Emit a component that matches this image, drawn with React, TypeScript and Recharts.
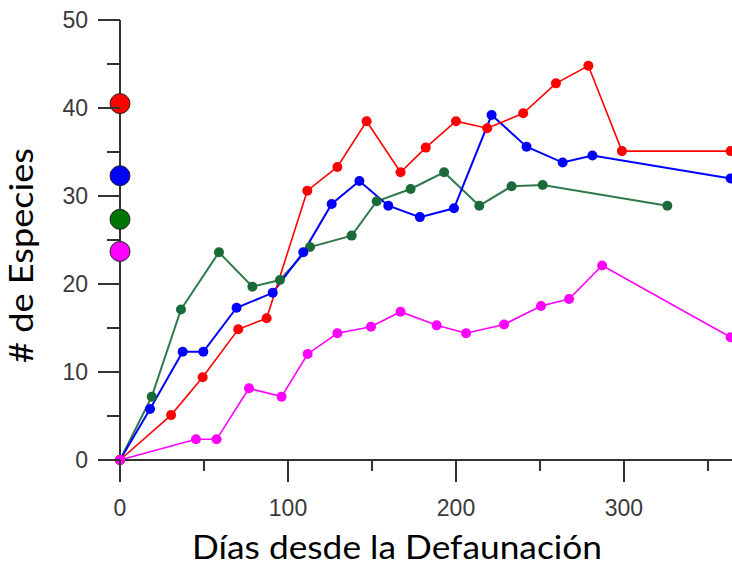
import React from 'react';
import { ComposedChart, Line, Scatter, XAxis, YAxis, Label } from 'recharts';

// Days since defaunation (x) and number of species (y) per series
const redDays = [0, 30.4, 49.2, 70.4, 87.3, 111.5, 129.4, 146.8, 167, 182, 200, 218.6, 240, 259.5, 278.8, 298.8, 363.5];
const redSpecies = [0, 5.1, 9.4, 14.85, 16.1, 30.6, 33.3, 38.5, 32.7, 35.5, 38.5, 37.7, 39.4, 42.8, 44.8, 35.1, 35.1];

const blueDays = [0, 17.9, 37.3, 49.6, 69.4, 90.9, 109.1, 126, 142.5, 159.7, 178.5, 198.8, 221.2, 242, 263.5, 281.2, 363.5];
const blueSpecies = [0, 5.8, 12.3, 12.3, 17.3, 19.0, 23.6, 29.1, 31.7, 28.9, 27.6, 28.6, 39.2, 35.6, 33.8, 34.6, 32.0];

const greenDays = [0, 18.9, 36.3, 58.9, 78.8, 95.2, 113.1, 137.9, 152.8, 173, 192.9, 213.9, 233.1, 251.6, 325.8];
const greenSpecies = [0, 7.2, 17.1, 23.6, 19.7, 20.45, 24.2, 25.5, 29.4, 30.8, 32.7, 28.9, 31.1, 31.25, 28.9];

const magentaDays = [0, 45.2, 57.5, 76.8, 96.2, 111.7, 129.4, 149.4, 167, 188.5, 206, 228.6, 250.6, 267.3, 287, 363.5];
const magentaSpecies = [0, 2.35, 2.35, 8.15, 7.2, 12.05, 14.4, 15.15, 16.85, 15.3, 14.4, 15.4, 17.5, 18.3, 22.1, 13.95];

// Initial (reference) species counts shown as large markers on the y axis
const initialDays = [0, 0, 0, 0];
const initialSpecies = [40.5, 32.3, 27.35, 23.7];
const initialColors = ['#ff0000', '#0000ff', '#007400', '#ff00ff'];

const xTicks = [0, 50, 100, 150, 200, 250, 300, 350];
const xMajor = [0, 100, 200, 300];
const yTicks = [0, 5, 10, 15, 20, 25, 30, 35, 40, 45, 50];
const yMajor = [0, 10, 20, 30, 40, 50];

const toPoints = (xs: number[], ys: number[]) => xs.map((x, i) => ({ x, y: ys[i] }));

const redData = toPoints(redDays, redSpecies);
const blueData = toPoints(blueDays, blueSpecies);
const greenData = toPoints(greenDays, greenSpecies);
const magentaData = toPoints(magentaDays, magentaSpecies);
const initialData = initialDays.map((x, i) => ({ x, y: initialSpecies[i], color: initialColors[i] }));

const AXIS = '#333333';
const TICKTEXT = '#3a3a3a';
const TICKFONT = '"Liberation Sans", Arial, sans-serif';
const TITLEFONT = 'Lato, "Open Sans", sans-serif';

const YTick = (props: any) => {
  const { x, y, payload } = props;
  const major = yMajor.includes(payload.value);
  return (
    <g>
      <line x1={x} x2={x - (major ? 22 : 13)} y1={y} y2={y} stroke={AXIS} strokeWidth={2} />
      {major && (
        <text x={x - 32} y={y} textAnchor="end" dominantBaseline="central" fontFamily={TICKFONT} fontSize={23} fill={TICKTEXT}>
          {payload.value}
        </text>
      )}
    </g>
  );
};

const XTick = (props: any) => {
  const { x, y, payload } = props;
  const major = xMajor.includes(payload.value);
  return (
    <g>
      <line x1={x} x2={x} y1={y} y2={y + (major ? 22 : 11)} stroke={AXIS} strokeWidth={2} />
      {major && (
        <text x={x} y={y + 48} textAnchor="middle" dominantBaseline="central" fontFamily={TICKFONT} fontSize={23} fill={TICKTEXT}>
          {payload.value}
        </text>
      )}
    </g>
  );
};

const BigMark = (props: any) => (
  <circle cx={props.cx} cy={props.cy} r={10} fill={props.payload.color} stroke="#222" strokeWidth={1} />
);

export default function App() {
  return (
    <div style={{ position: 'absolute', left: 0, top: 0, width: 732, height: 566, overflow: 'hidden', background: '#fff' }}>
      <ComposedChart width={732} height={566} margin={{ top: 20, right: 0, bottom: 0, left: 0 }}>
        <XAxis
          type="number"
          dataKey="x"
          domain={[0, 364.3]}
          ticks={xTicks}
          interval={0}
          height={106}
          tickSize={0}
          tickMargin={0}
          tickLine={false}
          axisLine={{ stroke: AXIS, strokeWidth: 2 }}
          tick={<XTick />}
        >
          <Label
            content={() => (
              <text x={397} y={559} textAnchor="middle" fontFamily={TITLEFONT} fontSize={32} fill="#000" textLength={410} lengthAdjust="spacingAndGlyphs">
                Días desde la Defaunación
              </text>
            )}
          />
        </XAxis>
        <YAxis
          type="number"
          dataKey="y"
          domain={[0, 50]}
          ticks={yTicks}
          interval={0}
          width={120}
          tickSize={0}
          tickMargin={0}
          tickLine={false}
          axisLine={{ stroke: AXIS, strokeWidth: 2 }}
          tick={<YTick />}
        >
          <Label
            content={() => (
              <text x={0} y={0} transform="translate(33,255.5) rotate(-90)" textAnchor="middle" fontFamily={TITLEFONT} fontSize={32} fill="#000" textLength={215} lengthAdjust="spacingAndGlyphs">
                # de Especies
              </text>
            )}
          />
        </YAxis>
        <Line data={greenData} dataKey="y" type="linear" stroke="#2f7a4c" strokeWidth={2} dot={{ r: 5, fill: '#1b6b3a', stroke: 'none' }} isAnimationActive={false} />
        <Line data={blueData} dataKey="y" type="linear" stroke="#0000ff" strokeWidth={2} dot={{ r: 5, fill: '#0000ff', stroke: 'none' }} isAnimationActive={false} />
        <Line data={redData} dataKey="y" type="linear" stroke="#ff0000" strokeWidth={1.6} dot={{ r: 5, fill: '#ff0000', stroke: 'none' }} isAnimationActive={false} />
        <Line data={magentaData} dataKey="y" type="linear" stroke="#ff00ff" strokeWidth={1.6} dot={{ r: 5, fill: '#ff00ff', stroke: 'none' }} isAnimationActive={false} />
        <Scatter data={initialData} dataKey="y" shape={<BigMark />} isAnimationActive={false} />
      </ComposedChart>
    </div>
  );
}
